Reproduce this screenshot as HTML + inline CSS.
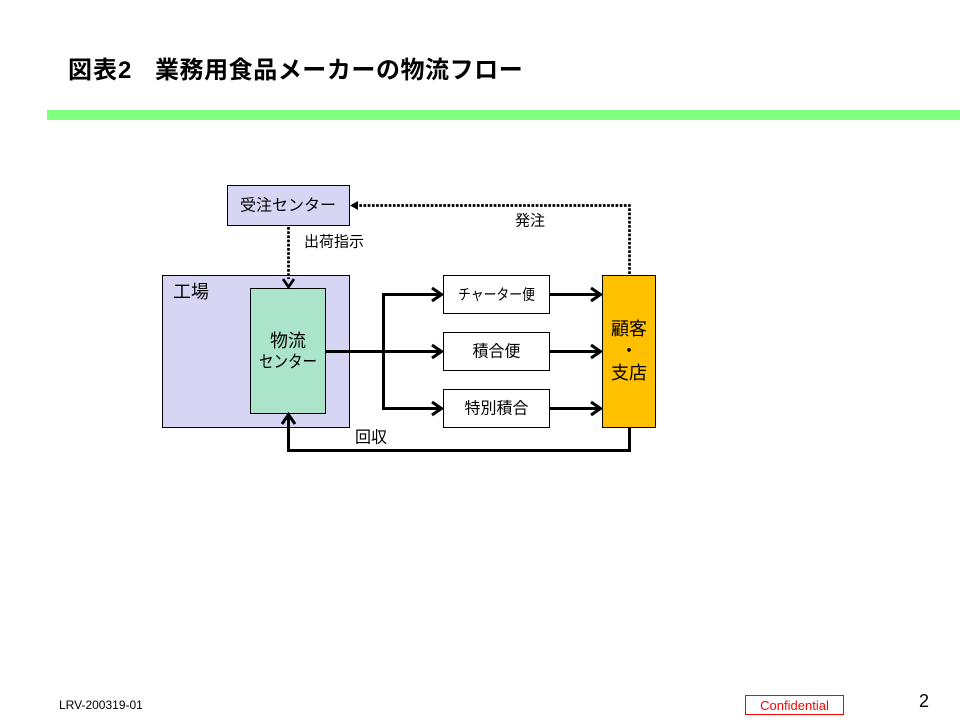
<!DOCTYPE html>
<html><head><meta charset="utf-8"><style>
html,body{margin:0;padding:0;background:#fff;}
body{width:960px;height:720px;position:relative;overflow:hidden;font-family:"Liberation Sans","Noto Sans CJK JP",sans-serif;}
.t{position:absolute;font-weight:bold;font-size:24px;line-height:30px;top:56px;color:#000;white-space:nowrap;}
</style></head><body>
<div class="t" style="left:68px;letter-spacing:1px;">図表2</div>
<div class="t" style="left:155px;letter-spacing:0.55px;">業務用食品メーカーの物流フロー</div>
<div style="position:absolute;left:47px;top:110px;width:913px;height:10px;background:#80ff80;"></div>

<svg width="960" height="720" style="position:absolute;left:0;top:0;" xmlns="http://www.w3.org/2000/svg" font-family="Liberation Sans, Noto Sans CJK JP, sans-serif">
  <!-- boxes -->
  <rect x="227.5" y="185.5" width="122" height="40" fill="#d6d6f4" stroke="#000" stroke-width="1"/>
  <rect x="162.5" y="275.5" width="187" height="152" fill="#d6d6f4" stroke="#000" stroke-width="1"/>
  <rect x="250.5" y="288.5" width="75" height="125" fill="#a9e4cb" stroke="#000" stroke-width="1"/>
  <rect x="443.5" y="275.5" width="106" height="38" fill="#fff" stroke="#000" stroke-width="1"/>
  <rect x="443.5" y="332.5" width="106" height="38" fill="#fff" stroke="#000" stroke-width="1"/>
  <rect x="443.5" y="389.5" width="106" height="38" fill="#fff" stroke="#000" stroke-width="1"/>
  <rect x="602.5" y="275.5" width="53" height="152" fill="#ffc000" stroke="#000" stroke-width="1"/>

  <!-- solid connectors -->
  <g stroke="#000" stroke-width="3" fill="none">
    <line x1="326" y1="351.5" x2="441" y2="351.5"/>
    <polyline points="441,294.5 383.5,294.5 383.5,408.5 441,408.5"/>
    <polyline points="432,288 441.5,294.5 432,301"/>
    <polyline points="432,345 441.5,351.5 432,358"/>
    <polyline points="432,402 441.5,408.5 432,415"/>
    <line x1="550" y1="294.5" x2="600" y2="294.5"/>
    <line x1="550" y1="351.5" x2="600" y2="351.5"/>
    <line x1="550" y1="408.5" x2="600" y2="408.5"/>
    <polyline points="591,288 600.5,294.5 591,301"/>
    <polyline points="591,345 600.5,351.5 591,358"/>
    <polyline points="591,402 600.5,408.5 591,415"/>
    <polyline points="629.5,428 629.5,450.5 288.5,450.5 288.5,416"/>
    <polyline points="282,424 288.5,414.5 295,424"/>
  </g>

  <!-- dotted connectors -->
  <g stroke="#000" stroke-width="2.7" fill="none" stroke-dasharray="2.7 1.5">
    <polyline points="629.5,274 629.5,205.5 358,205.5"/>
    <line x1="288.5" y1="227" x2="288.5" y2="279"/>
  </g>
  <polygon points="350,205.5 358,201 358,210" fill="#000"/>
  <polyline points="283,279 288.5,287 294,279" stroke="#000" stroke-width="2.7" fill="none"/>

  <!-- labels -->
  <g fill="#000" text-anchor="middle" dominant-baseline="central">
    <text x="288" y="206" font-size="16">受注センター</text>
    <text x="334" y="242" font-size="15">出荷指示</text>
    <text x="530" y="221" font-size="15">発注</text>
    <text x="191" y="292" font-size="18">工場</text>
    <text x="288" y="341" font-size="18">物流</text>
    <text x="288" y="362" font-size="17" textLength="58" lengthAdjust="spacingAndGlyphs">センター</text>
    <text x="496.5" y="295" font-size="15" textLength="77" lengthAdjust="spacingAndGlyphs">チャーター便</text>
    <text x="496.5" y="352" font-size="16">積合便</text>
    <text x="496.5" y="409" font-size="16">特別積合</text>
    <text x="629" y="329" font-size="18">顧客</text>
    <text x="629" y="351" font-size="18">・</text>
    <text x="629" y="373" font-size="18">支店</text>
    <text x="371" y="438" font-size="16">回収</text>
  </g>

  <!-- footer -->
  <text x="59" y="709" font-size="12" fill="#000">LRV-200319-01</text>
  <rect x="745.5" y="695.5" width="98" height="19" fill="#fff" stroke="#ff0000" stroke-width="1"/>
  <text x="794.5" y="705.5" font-size="13" fill="#ff0000" text-anchor="middle" dominant-baseline="central">Confidential</text>
  <text x="924" y="707" font-size="18" fill="#000" text-anchor="middle">2</text>
</svg>
</body></html>
